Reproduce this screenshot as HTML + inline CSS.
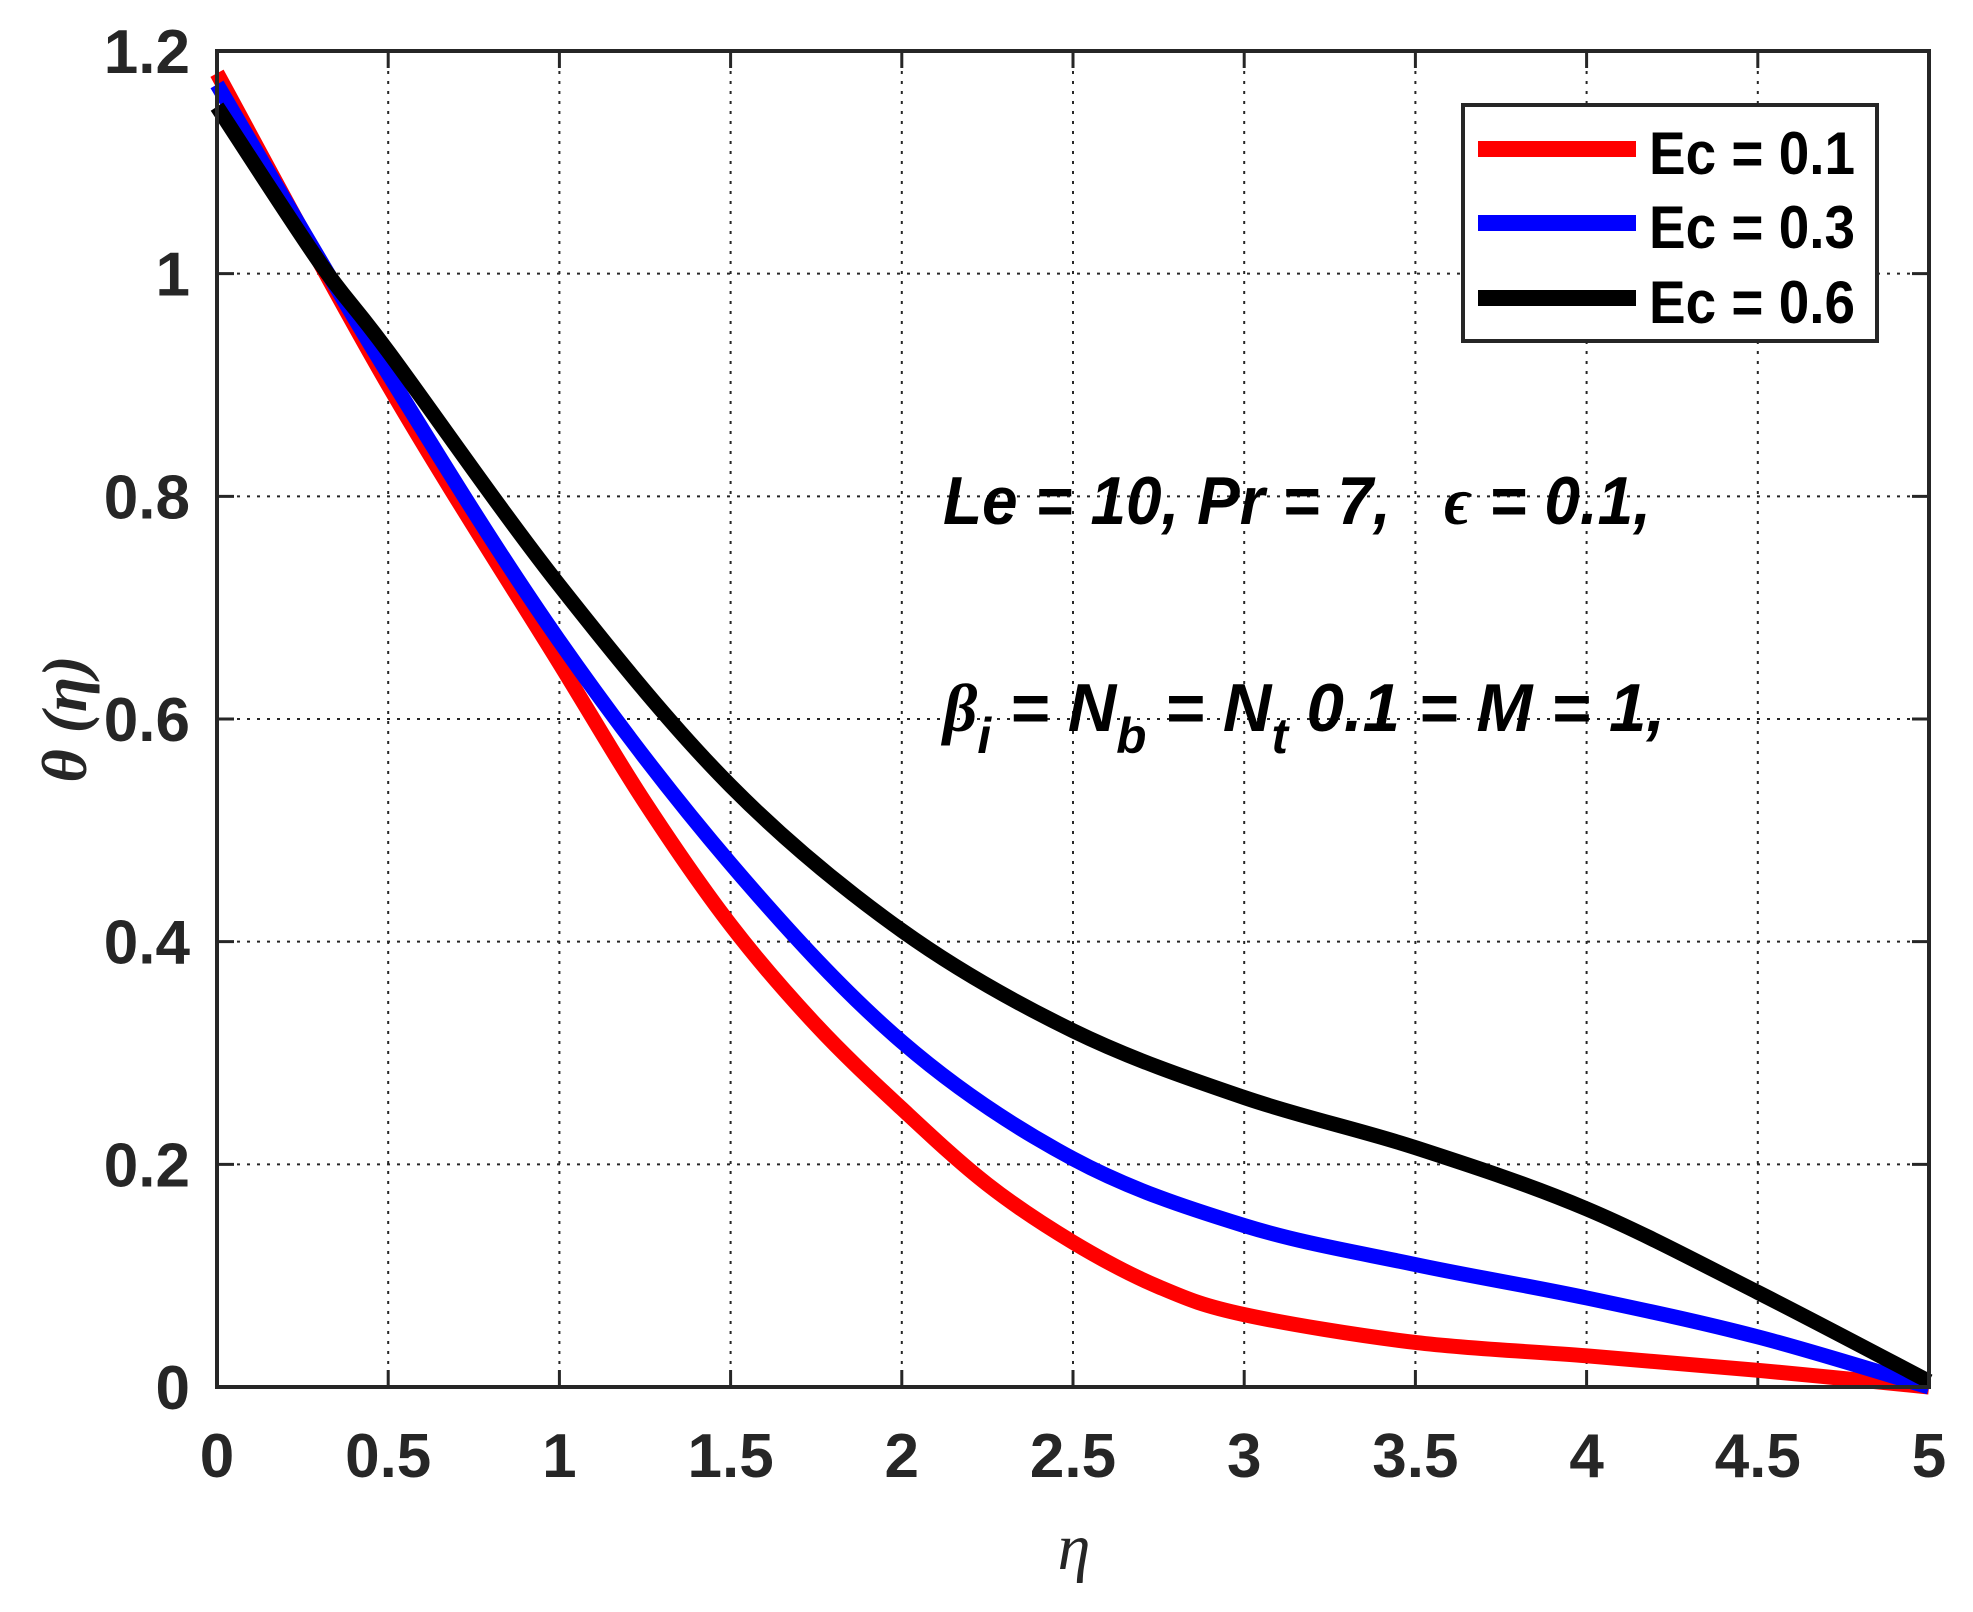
<!DOCTYPE html>
<html><head><meta charset="utf-8"><style>
html,body{margin:0;padding:0;background:#fff;}
svg{display:block;}
</style></head><body>
<svg id="s" width="1973" height="1612" viewBox="0 0 1973 1612" xmlns="http://www.w3.org/2000/svg">
<rect width="1973" height="1612" fill="#fff"/>
<g id="grid" stroke="#262626" stroke-width="2" stroke-dasharray="3,7"></g>
<g id="ticks" stroke="#262626" stroke-width="3"></g>
<g id="curves" fill="none" stroke-width="15" stroke-linejoin="round"></g>
<rect x="217" y="51" width="1712" height="1336" fill="none" stroke="#262626" stroke-width="4"/>
<g id="labels" font-family="Liberation Sans, Arial, sans-serif" font-weight="bold" font-size="62" fill="#262626"></g>
<g font-family="Liberation Sans, Arial, sans-serif" font-weight="bold" font-style="italic" font-size="68" fill="#000">
<text x="943" y="524" textLength="708" lengthAdjust="spacingAndGlyphs">Le = 10, Pr = 7,&#160;&#160; <tspan font-family="Liberation Serif, serif">ϵ</tspan> = 0.1,</text>
<text x="943" y="731" textLength="722" lengthAdjust="spacingAndGlyphs"><tspan font-family="Liberation Serif, serif">β</tspan><tspan font-size="50" dy="22">i</tspan><tspan dy="-22"> = N</tspan><tspan font-size="50" dy="22">b</tspan><tspan dy="-22"> = N</tspan><tspan font-size="50" dy="22">t</tspan><tspan dy="-22"> 0.1 = M = 1,</tspan></text>
</g>
<rect x="1463" y="105" width="414" height="236" fill="#fff" stroke="#262626" stroke-width="4"/>
<line x1="1478" y1="149" x2="1636" y2="149" stroke="#f00" stroke-width="16"/>
<line x1="1478" y1="223" x2="1636" y2="223" stroke="#00f" stroke-width="16"/>
<line x1="1478" y1="298" x2="1636" y2="298" stroke="#000" stroke-width="16"/>
<g font-family="Liberation Sans, Arial, sans-serif" font-weight="bold" font-size="60" fill="#000">
<text x="1649" y="174" textLength="206" lengthAdjust="spacingAndGlyphs">Ec = 0.1</text>
<text x="1649" y="248" textLength="206" lengthAdjust="spacingAndGlyphs">Ec = 0.3</text>
<text x="1649" y="323" textLength="206" lengthAdjust="spacingAndGlyphs">Ec = 0.6</text>
</g>
<text x="1074" y="1569" text-anchor="middle" font-family="Liberation Serif, serif" font-style="italic" font-size="66" fill="#262626">η</text>
<text transform="translate(86,719) rotate(-90)" text-anchor="middle" font-family="Liberation Serif, serif" font-style="italic" font-weight="bold" font-size="64" fill="#262626">θ (η)</text>
</svg>
<script>
var NS="http://www.w3.org/2000/svg";
var X0=217,X1=1929,Y0=1387,Y1=51;
function px(x){return X0+(X1-X0)*x/5;}
function py(y){return Y0-(Y0-Y1)*y/1.2;}
function el(p,t,a,txt){var e=document.createElementNS(NS,t);for(var k in a)e.setAttribute(k,a[k]);if(txt!==undefined)e.textContent=txt;document.getElementById(p).appendChild(e);}
for(var i=1;i<10;i++){var x=px(i*0.5);el("grid","line",{x1:x,y1:Y1,x2:x,y2:Y0});el("ticks","line",{x1:x,y1:Y0,x2:x,y2:Y0-17});el("ticks","line",{x1:x,y1:Y1,x2:x,y2:Y1+17});}
for(var j=1;j<6;j++){var y=py(j*0.2);el("grid","line",{x1:X0,y1:y,x2:X1,y2:y});el("ticks","line",{x1:X0,y1:y,x2:X0+17,y2:y});el("ticks","line",{x1:X1,y1:y,x2:X1-17,y2:y});}
var xl=["0","0.5","1","1.5","2","2.5","3","3.5","4","4.5","5"];
for(var i=0;i<=10;i++)el("labels","text",{x:px(i*0.5),y:1477,"text-anchor":"middle"},xl[i]);
var yl=["0","0.2","0.4","0.6","0.8","1","1.2"];
for(var j=0;j<=6;j++)el("labels","text",{x:190,y:py(j*0.2)+22,"text-anchor":"end"},yl[j]);
function path(pts){var P=pts.map(function(p){return [px(p[0]),py(p[1])];});var d="M"+P[0][0]+","+P[0][1];
for(var i=0;i<P.length-1;i++){var p0=P[Math.max(0,i-1)],p1=P[i],p2=P[i+1],p3=P[Math.min(P.length-1,i+2)];
var c1=[p1[0]+(p2[0]-p0[0])/6,p1[1]+(p2[1]-p0[1])/6],c2=[p2[0]-(p3[0]-p1[0])/6,p2[1]-(p3[1]-p1[1])/6];
d+=" C"+c1+" "+c2+" "+p2;}return d;}
var red=[[0,1.18],[0.5,0.9],[1,0.65],[1.25,0.525],[1.5,0.415],[1.75,0.325],[2,0.25],[2.25,0.182],[2.5,0.13],[2.75,0.09],[3,0.065],[3.5,0.04],[4,0.028],[4.5,0.015],[5,0]];
var blue=[[0,1.17],[0.5,0.91],[1,0.67],[1.5,0.47],[2,0.31],[2.5,0.205],[3,0.145],[3.5,0.11],[4,0.08],[4.5,0.045],[5,0]];
var black=[[0,1.15],[0.3,1.01],[0.5,0.93],[1,0.72],[1.5,0.54],[2,0.41],[2.5,0.32],[3,0.26],[3.5,0.215],[4,0.16],[4.5,0.085],[5,0.005]];
el("curves","path",{d:path(red),stroke:"#f00"});
el("curves","path",{d:path(blue),stroke:"#00f"});
el("curves","path",{d:path(black),stroke:"#000"});
</script>
</body></html>
